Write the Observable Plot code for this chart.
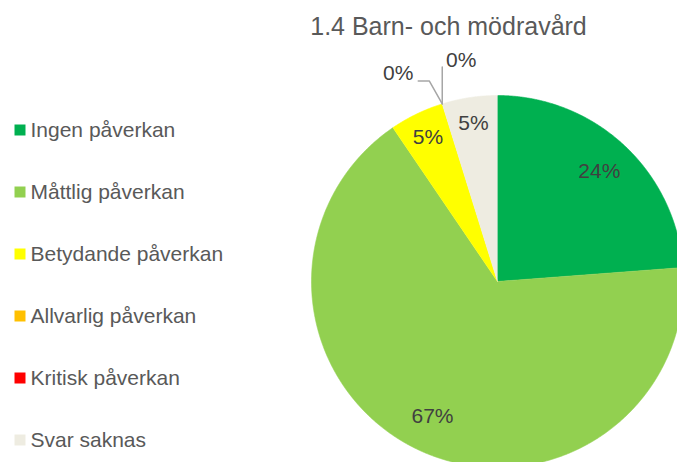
<!DOCTYPE html>
<html>
<head>
<meta charset="utf-8">
<script src="https://cdn.jsdelivr.net/npm/d3@7"></script>
<script src="https://cdn.jsdelivr.net/npm/@observablehq/plot@0.6"></script>
<style>
  html, body { margin: 0; padding: 0; background: #fff; overflow: hidden; }
  #chart { width: 677px; height: 462px; overflow: hidden; }
</style>
</head>
<body>
<div id="chart"></div>
<script>
// ---- data ----
const title = "1.4 Barn- och mödravård";
const categories = ["Ingen påverkan", "Måttlig påverkan", "Betydande påverkan", "Allvarlig påverkan", "Kritisk påverkan", "Svar saknas"];
const values = [23.8, 66.7, 4.7, 0, 0, 4.8];
const colors = ["#00B050", "#92D050", "#FFFF00", "#FFC000", "#FF0000", "#EEECE1"];

// ---- layout (style constants) ----
const W = 677, H = 462;
const cx = 497, cy = 281, R = 186;
const font = "'Liberation Sans', Arial, sans-serif";

const data = categories.map((c, i) => ({cat: c, value: values[i], label: Math.round(values[i]) + "%"}));
const arcs = d3.pie().sort(null).value(d => d.value)(data);

// slice polygons from pie angles
const slicePts = [];
for (const a of arcs) {
  if (a.endAngle - a.startAngle <= 0) continue;
  const cat = a.data.cat;
  slicePts.push({cat, x: cx, y: cy});
  const n = Math.max(2, Math.ceil((a.endAngle - a.startAngle) / (Math.PI / 720)));
  for (let k = 0; k <= n; k++) {
    const t = a.startAngle + (a.endAngle - a.startAngle) * k / n;
    slicePts.push({cat, x: cx + R * Math.sin(t), y: cy - R * Math.cos(t)});
  }
}

// inside labels for non-zero slices
const inLabels = arcs.filter(a => a.value > 0).map(a => {
  const m = (a.startAngle + a.endAngle) / 2;
  const lr = a.value > 10 ? R * 0.805 : R * 0.86;
  return {label: a.data.label, x: cx + lr * Math.sin(m), y: cy - lr * Math.cos(m)};
});

// callouts for zero slices
const zeroArcs = arcs.filter(a => a.value === 0);
const leaderPts = [];
const outLabels = [];
zeroArcs.forEach((a, j) => {
  const px = cx + R * Math.sin(a.startAngle), py = cy - R * Math.cos(a.startAngle);
  if (j === 0) {
    leaderPts.push({k: j, x: px, y: py}, {k: j, x: px - 13, y: py - 23}, {k: j, x: px - 24, y: py - 23});
    outLabels.push({label: a.data.label, x: px - 44, y: py - 31});
  } else {
    leaderPts.push({k: j, x: px, y: py}, {k: j, x: px, y: py - 37});
    outLabels.push({label: a.data.label, x: px + 19, y: py - 44});
  }
});

// legend rows
const legend = categories.map((c, i) => ({cat: c, y: 129.5 + 62 * i}));

const plot = Plot.plot({
  width: W, height: H,
  margin: 0,
  style: {background: "#fff", fontFamily: font, overflow: "hidden"},
  x: {domain: [0, W], range: [0, W], axis: null},
  y: {domain: [0, H], range: [0, H], axis: null},
  color: {domain: categories, range: colors},
  marks: [
    Plot.line(slicePts, {x: "x", y: "y", z: "cat", fill: "cat", stroke: "cat", strokeWidth: 0.6}),
    Plot.text(inLabels, {x: "x", y: "y", text: "label", fill: "#404040", fontSize: 21, textAnchor: "middle"}),
    Plot.line(leaderPts, {x: "x", y: "y", z: "k", stroke: "#A6A6A6", strokeWidth: 1.5}),
    Plot.text(outLabels, {x: "x", y: "y", text: "label", fill: "#404040", fontSize: 21, textAnchor: "middle"}),
    Plot.dot(legend, {x: 19.5, y: "y", symbol: "square", r: 11 / Math.sqrt(Math.PI), fill: "cat", stroke: null}),
    Plot.text(legend, {x: 30, y: "y", text: "cat", fill: "#595959", fontSize: 21, textAnchor: "start"}),
    Plot.text([title], {x: 448, y: 26, text: d => d, fill: "#595959", fontSize: 25, textAnchor: "middle"})
  ]
});
document.getElementById("chart").appendChild(plot);
</script>
</body>
</html>
